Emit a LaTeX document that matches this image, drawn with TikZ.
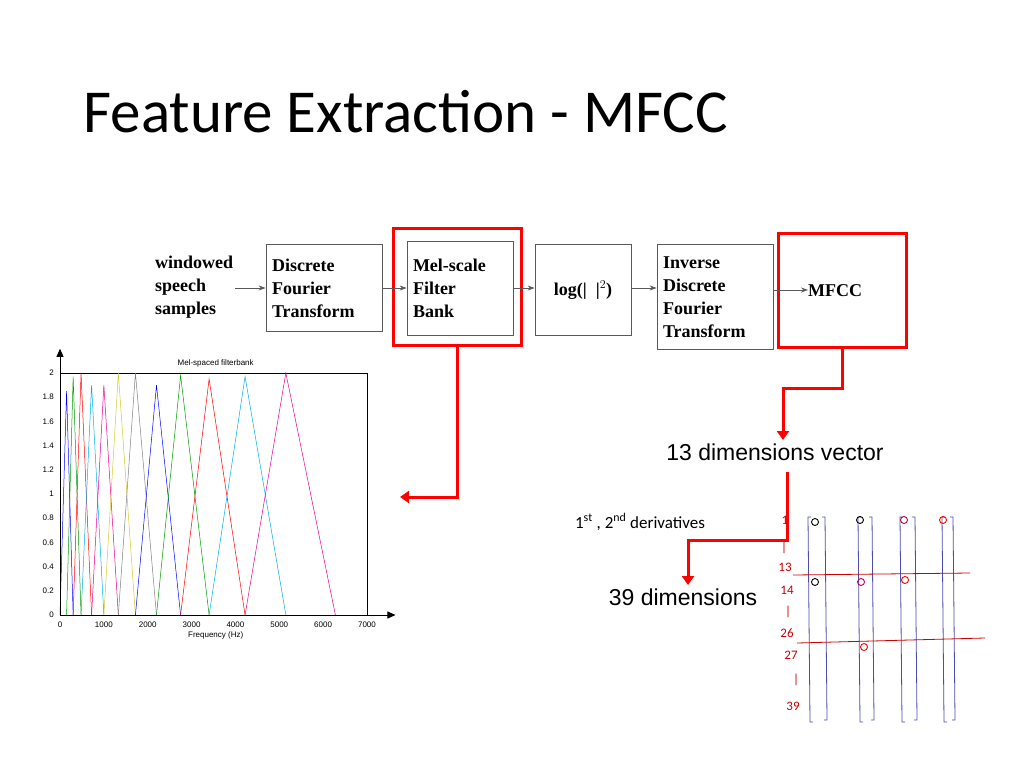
\documentclass[tikz,border=0pt]{standalone}
\usepackage{fontspec}
\setmainfont{Carlito}
\newfontfamily\blockfont{Liberation Serif}
\newfontfamily\arialfont{Liberation Sans}
\usetikzlibrary{arrows.meta}
\tikzset{
  block/.style={draw=gray!70!black, line width=0.8pt, align=left, inner sep=0pt,
    font=\blockfont\bfseries\fontsize{18}{23}\selectfont},
  flow/.style={draw=gray!70!black, line width=0.7pt, -{Stealth[length=7pt,width=5pt]}},
  redbox/.style={draw=red, line width=3pt},
  redline/.style={draw=red, line width=3pt, -{Triangle[length=9pt,width=12pt]}},
  axis/.style={line width=0.8pt, -{Triangle[length=8pt,width=7pt]}},
  ticklab/.style={font=\arialfont\fontsize{8}{9}\selectfont},
  hand/.style={draw=blue!40!gray, line width=0.8pt},
  handred/.style={text=red!80!black, font=\fontsize{13}{13}\selectfont},
}
\begin{document}
\begin{tikzpicture}[x=1pt,y=-1pt]
  \useasboundingbox (0,0) rectangle (1024,768);
  \node[anchor=west, font=\fontsize{61}{61}\selectfont] (title) at (80,112) {Feature Extraction - MFCC};

  % processing chain
  \node[align=left, inner sep=0pt, anchor=west, font=\blockfont\bfseries\fontsize{18}{23}\selectfont] (input) at (155,287) {windowed\\speech\\samples};
  \node[block, minimum width=116pt, minimum height=87pt, text width=104pt] (dft) at (324,288) {Discrete\\Fourier\\Transform};
  \node[block, minimum width=106pt, minimum height=94pt, text width=94pt] (mel) at (460,288) {Mel-scale\\Filter\\Bank};
  \node[block, minimum width=96pt, minimum height=91pt, align=center] (log) at (583,290) {log(|\ \ |$^{2}$)};
  \node[block, minimum width=116pt, minimum height=105pt, text width=104pt] (idft) at (715,297) {Inverse\\Discrete\\Fourier\\Transform};
  \node[font=\blockfont\bfseries\fontsize{18}{23}\selectfont, anchor=west, inner sep=0pt] (mfcc) at (808,291) {MFCC};
  \node[redbox, minimum width=128pt, minimum height=117pt] (melred) at (457,287) {};
  \node[redbox, minimum width=128pt, minimum height=114pt] (mfccred) at (842,290) {};
  \draw[flow] (input.east |- 0,288) ++(2,0) -- (dft.west |- 0,288);
  \draw[flow] (dft.east |- 0,288) -- (mel.west |- 0,288);
  \draw[flow] (mel.east |- 0,288) -- (log.west |- 0,288);
  \draw[flow] (log.east |- 0,288) -- (idft.west |- 0,288);
  \draw[flow] (idft.east |- 0,290) -- (mfcc.west |- 0,290);

  % outputs
  \node[font=\arialfont\fontsize{23}{23}\selectfont] (vec13) at (775,452) {13 dimensions vector};
  \node[font=\fontsize{17}{17}\selectfont] (deriv) at (640,522) {1$^{\mathrm{st}}$ , 2$^{\mathrm{nd}}$ derivatives};
  \node[font=\arialfont\fontsize{23}{23}\selectfont] (vec39) at (683,597) {39 dimensions};
  \coordinate (melout) at (400,497);
  \draw[redline] (melred.south) -- (melred.south |- melout) -- (melout);
  \draw[redline] (mfccred.south) -- ++(0,40) -| (vec13.north -| 783,0);
  \draw[redline] (787,472) -- (787,540) -| (vec39.north -| 688,0);

  % filterbank plot
  \begin{scope}[shift={(60,615)}, x=0.04386pt, y=121pt]
    \draw[line width=0.5pt] (0,0) rectangle (7000,2);
    \foreach \a/\c/\b/\h/\col in {0/150/300/1.85/blue, 150/300/480/1.97/green!60!black,
      300/480/720/2/red, 480/720/1000/1.9/cyan, 720/1000/1330/1.9/magenta,
      1000/1330/1720/2/yellow!80!black, 1330/1720/2200/2/gray, 1720/2200/2750/1.9/blue,
      2200/2750/3400/1.98/green!60!black, 2750/3400/4220/1.95/red,
      3400/4220/5150/1.97/cyan, 4220/5150/6280/2/magenta}
      \draw[\col, line width=0.5pt] (\a,0) -- (\c,\h) -- (\b,0);
    \foreach \v/\t in {0/0,0.2/0.2,0.4/0.4,0.6/0.6,0.8/0.8,1/1,1.2/1.2,1.4/1.4,1.6/1.6,1.8/1.8,2/2}
      \node[ticklab, anchor=east] at (-60,\v) {\t};
    \foreach \f in {0,1000,...,7000}
      \node[ticklab, anchor=north] at (\f,-0.03) {\f};
    \node[ticklab] (ftitle) at (3550,2.08) {Mel-spaced filterbank};
    \node[ticklab] (flabel) at (3550,-0.17) {Frequency (Hz)};
    \draw[axis] (0,0) -- (7650,0);
    \draw[axis] (0,0) -- (0,2.2);
  \end{scope}

  % handwritten vectors
  \foreach \xl/\xr in {808/825, 858/872, 900/915, 942/953} {
    \draw[hand] (\xl+3,517) -- (\xl,517) -- (\xl+2,722) -- (\xl+5,722);
    \draw[hand] (\xr-3,517) -- (\xr,517) -- (\xr+2,720) -- (\xr-1,720);
  }
  \draw[red!80!black, line width=0.8pt] (793,575) -- (970,573);
  \draw[red!80!black, line width=0.8pt] (797,643) -- (985,638);
  \foreach \t/\px/\py in {1/785/520, |/784/548, 13/785/567, 14/787/590, |/788/612,
      26/787/633, 27/791/655, |/796/680, 39/793/706}
    \node[handred] at (\px,\py) {\t};
  \foreach \px/\py/\col in {815/522/black, 815/582/black, 860/520/black, 861/582/purple,
      864/647/red, 904/520/purple, 905/580/red, 943/520/red}
    \draw[\col, line width=0.9pt] (\px,\py) circle (3.5pt);
\end{tikzpicture}
\end{document}
